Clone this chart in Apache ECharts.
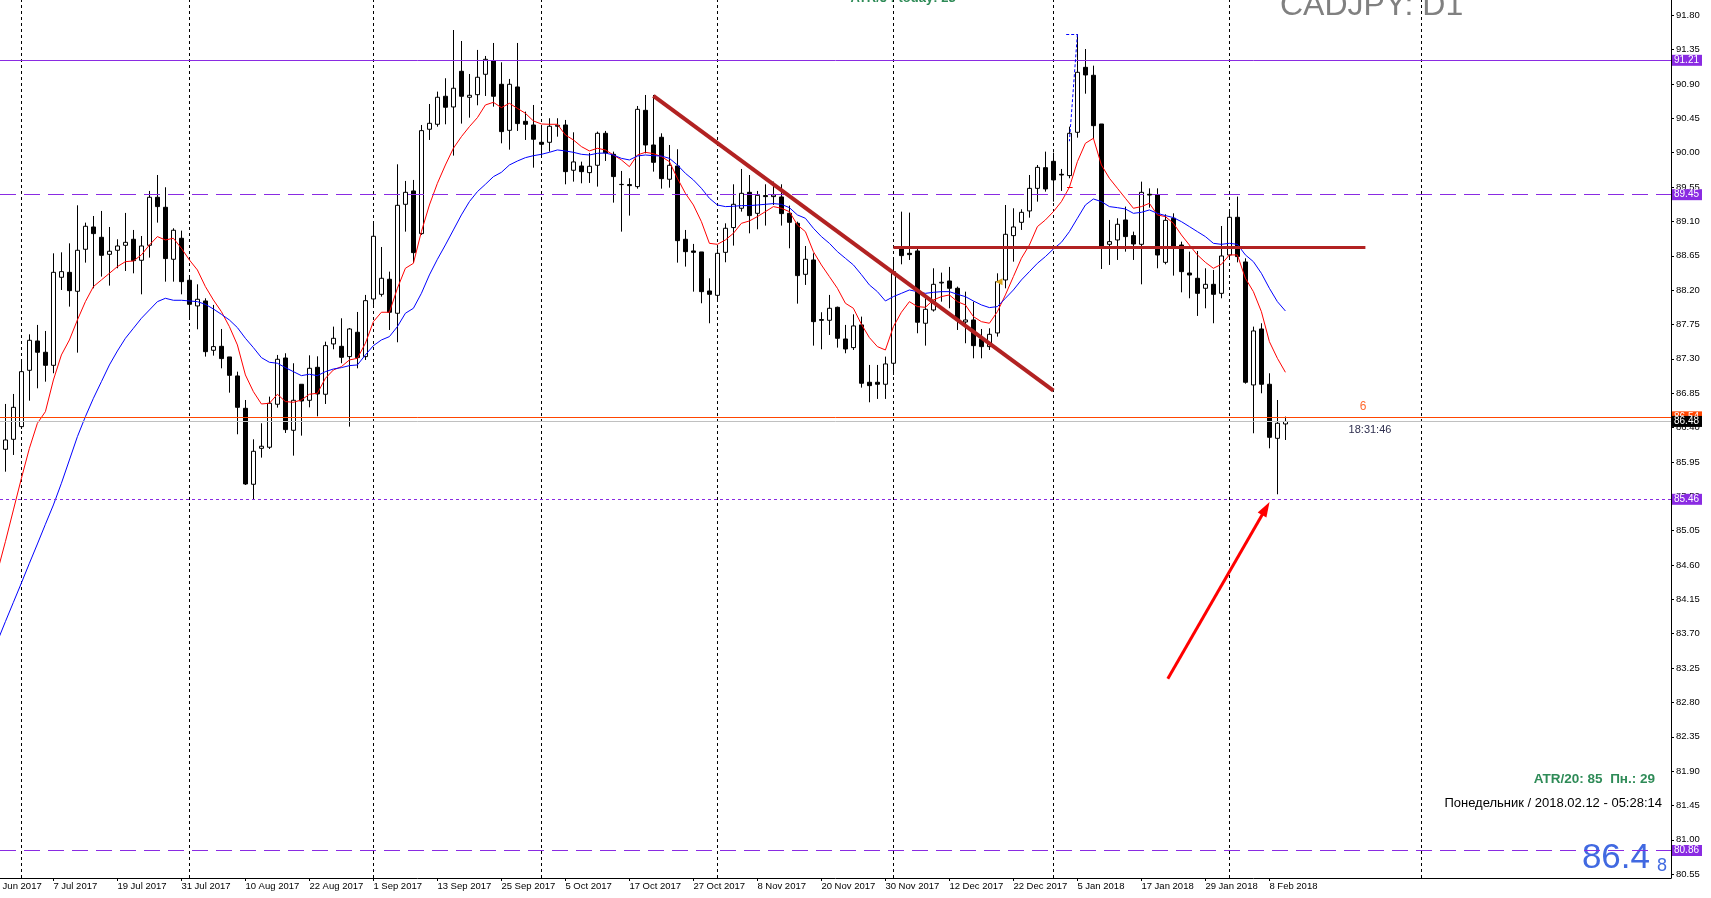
<!DOCTYPE html>
<html>
<head>
<meta charset="utf-8">
<title>CADJPY D1</title>
<script src="https://cdn.jsdelivr.net/npm/echarts@6/dist/echarts.min.js"></script>
<style>
html, body { margin: 0; padding: 0; background: #fff; }
#chart { width: 1711px; height: 898px; }
</style>
</head>
<body>
<div id="chart"></div>
<script>
// daily bars, index 0 = 29 Jun 2017 ... 160 = 12 Feb 2018
var open = [86.115, 86.246, 86.412, 87.150, 87.534, 87.386, 87.215, 88.368, 88.433, 88.185,
  88.735, 89.027, 88.892, 88.669, 88.722, 88.787, 88.866, 88.591, 88.787, 89.416,
  89.285, 88.604, 88.879, 88.329, 87.993, 88.058, 87.412, 87.464, 87.325, 87.076,
  86.652, 85.657, 86.128, 86.142, 86.705, 87.311, 86.364, 86.967, 86.757, 87.189,
  86.836, 87.495, 87.464, 87.329, 87.648, 87.329, 88.084, 88.145, 88.342, 87.897,
  89.324, 89.499, 88.940, 90.307, 90.372, 90.739, 90.599, 91.066, 90.726, 90.760,
  91.027, 91.202, 90.896, 90.293, 90.861, 90.411, 90.363, 90.136, 90.136, 90.346,
  90.363, 89.770, 89.826, 89.739, 89.835, 90.254, 89.979, 89.585, 89.582, 89.556,
  90.555, 90.101, 90.202, 89.652, 89.826, 88.866, 88.713, 88.700, 88.189, 88.132,
  88.695, 89.019, 89.272, 89.481, 89.206, 89.438, 89.425, 89.420, 89.206, 89.075,
  88.407, 88.595, 87.814, 87.805, 87.975, 87.560, 87.447, 87.744, 86.993, 86.993,
  86.967, 87.242, 88.739, 88.682, 88.713, 87.766, 87.940, 88.294, 88.320, 88.224,
  87.783, 87.809, 87.560, 87.460, 87.639, 88.333, 88.914, 89.088, 89.237, 89.533,
  89.804, 89.887, 89.717, 89.700, 90.267, 91.118, 91.014, 90.376, 88.800, 88.857,
  89.119, 88.914, 88.800, 89.455, 89.446, 88.564, 89.141, 88.791, 88.424, 88.355,
  88.224, 88.276, 88.158, 88.660, 89.154, 88.569, 86.958, 87.691, 86.967, 86.259,
  86.447];
var close = [86.237, 86.665, 87.132, 87.543, 87.386, 87.215, 88.433, 88.442, 88.193, 88.722,
  89.036, 88.940, 88.656, 88.709, 88.778, 88.826, 88.586, 88.778, 89.416, 89.294,
  88.613, 88.984, 88.311, 88.014, 88.080, 87.394, 87.460, 87.303, 87.084, 86.665,
  85.661, 86.089, 86.155, 86.718, 87.294, 86.373, 86.757, 86.748, 87.176, 86.840,
  87.473, 87.569, 87.320, 87.691, 87.316, 88.062, 88.905, 88.355, 87.910, 89.311,
  89.481, 88.691, 90.289, 90.385, 90.726, 90.595, 90.844, 90.739, 90.752, 90.988,
  91.223, 90.739, 90.276, 90.896, 90.381, 90.372, 90.176, 90.110, 90.346, 90.359,
  89.752, 89.879, 89.752, 89.822, 90.254, 89.997, 89.687, 89.582, 89.569, 90.568,
  90.101, 89.874, 89.660, 89.835, 88.848, 88.704, 88.695, 88.180, 88.145, 88.682,
  89.010, 89.324, 89.468, 89.176, 89.442, 89.425, 89.446, 89.202, 89.088, 88.390,
  88.604, 87.787, 87.805, 87.962, 87.569, 87.429, 87.731, 86.980, 86.949, 86.967,
  87.233, 88.442, 88.652, 88.665, 87.779, 87.949, 88.276, 88.303, 88.224, 87.809,
  87.809, 87.473, 87.460, 87.621, 88.311, 88.931, 89.027, 89.219, 89.533, 89.808,
  89.525, 89.643, 89.708, 90.254, 91.053, 91.018, 90.354, 88.778, 88.835, 89.062,
  88.901, 88.804, 89.481, 89.446, 88.660, 89.114, 88.770, 88.442, 88.398, 88.158,
  88.276, 88.145, 88.647, 89.154, 88.639, 86.993, 87.665, 86.967, 86.272, 86.456,
  86.480];
var high = [86.709, 86.840, 87.272, 87.621, 87.744, 87.665, 88.682, 88.695, 88.813, 89.311,
  89.084, 89.171, 89.237, 89.027, 88.866, 89.211, 88.988, 88.909, 89.499, 89.708,
  89.547, 89.010, 88.979, 88.377, 88.276, 88.093, 88.006, 87.691, 87.325, 87.132,
  86.761, 86.246, 86.456, 86.805, 87.351, 87.373, 87.242, 86.967, 87.346, 87.333,
  87.525, 87.722, 87.831, 87.704, 87.914, 88.137, 89.071, 88.765, 88.442, 89.848,
  89.630, 89.643, 90.363, 90.638, 90.800, 90.975, 91.607, 91.463, 91.031, 91.346,
  91.267, 91.437, 91.184, 90.966, 91.437, 90.538, 90.625, 90.363, 90.451, 90.451,
  90.429, 90.267, 89.883, 89.997, 90.276, 90.285, 90.014, 89.761, 89.665, 90.612,
  90.756, 90.756, 90.254, 90.101, 90.045, 88.988, 88.805, 88.700, 88.355, 88.748,
  89.075, 89.586, 89.787, 89.708, 89.499, 89.586, 89.621, 89.586, 89.307, 89.097,
  88.778, 88.682, 87.910, 88.137, 87.984, 87.744, 87.883, 87.853, 87.220, 87.220,
  87.329, 88.617, 89.228, 89.215, 88.739, 88.093, 88.486, 88.429, 88.504, 88.246,
  88.180, 88.049, 87.691, 87.700, 88.420, 89.315, 89.272, 89.259, 89.708, 89.839,
  90.014, 90.001, 89.787, 90.341, 91.551, 91.358, 91.140, 90.376, 89.119, 89.141,
  89.294, 88.966, 89.621, 89.533, 89.533, 89.193, 89.206, 88.835, 88.704, 88.713,
  88.486, 88.464, 89.040, 89.250, 89.425, 88.617, 87.722, 87.766, 87.111, 86.761,
  86.543];
var low = [85.822, 86.041, 86.381, 86.752, 86.914, 87.001, 87.111, 88.202, 87.984, 87.381,
  88.560, 88.224, 88.377, 88.259, 88.486, 88.451, 88.420, 88.145, 88.626, 89.084,
  88.311, 88.311, 88.145, 87.831, 87.687, 87.329, 87.342, 87.176, 86.857, 86.312,
  85.648, 85.460, 86.006, 86.120, 86.661, 86.329, 86.032, 86.294, 86.665, 86.547,
  86.709, 87.425, 87.242, 86.412, 87.176, 87.285, 88.006, 88.115, 87.678, 87.517,
  88.966, 88.556, 88.923, 90.167, 90.341, 90.372, 89.962, 90.381, 90.459, 90.621,
  90.743, 90.603, 90.123, 90.040, 90.285, 90.167, 89.804, 89.970, 90.014, 90.210,
  89.586, 89.621, 89.599, 89.604, 89.556, 89.892, 89.346, 88.966, 89.176, 89.529,
  89.992, 89.752, 89.529, 89.542, 88.560, 88.508, 88.180, 88.028, 87.766, 88.049,
  88.565, 88.783, 89.228, 88.944, 88.997, 89.045, 89.315, 89.045, 88.748, 88.023,
  88.268, 87.473, 87.425, 87.613, 87.447, 87.373, 87.416, 86.923, 86.731, 86.775,
  86.775, 87.089, 88.538, 88.595, 87.635, 87.473, 87.919, 88.049, 87.962, 87.678,
  87.504, 87.307, 87.307, 87.416, 87.591, 88.224, 88.573, 88.988, 89.149, 89.359,
  89.490, 89.359, 89.499, 89.665, 90.197, 90.773, 90.180, 88.477, 88.530, 88.595,
  88.704, 88.595, 88.276, 89.280, 88.486, 88.538, 88.390, 88.171, 88.093, 87.862,
  87.962, 87.766, 88.093, 88.617, 88.564, 86.975, 86.325, 86.849, 86.128, 85.526,
  86.237];

// moving averages, first value is bar -1 (28 Jun)
var maRed = [84.513, 84.906, 85.321, 85.735, 86.128, 86.456, 86.608, 87.023, 87.351, 87.547,
  87.809, 88.049, 88.246, 88.333, 88.420, 88.508, 88.573, 88.582, 88.661, 88.791,
  88.901, 88.857, 88.879, 88.748, 88.595, 88.464, 88.246, 88.071, 87.918, 87.722,
  87.482, 87.089, 86.870, 86.709, 86.718, 86.836, 86.740, 86.731, 86.761, 86.836,
  86.849, 87.045, 87.154, 87.198, 87.285, 87.307, 87.504, 87.787, 87.910, 87.910,
  88.224, 88.486, 88.551, 88.966, 89.315, 89.599, 89.839, 90.058, 90.210, 90.341,
  90.459, 90.625, 90.660, 90.590, 90.647, 90.581, 90.516, 90.416, 90.376, 90.372,
  90.372, 90.232, 90.167, 90.080, 90.023, 90.058, 90.036, 89.970, 89.905, 89.817,
  89.970, 90.005, 89.988, 89.949, 89.883, 89.665, 89.468, 89.315, 89.097, 88.813,
  88.800, 88.857, 88.944, 89.075, 89.106, 89.163, 89.228, 89.294, 89.272, 89.228,
  89.053, 88.966, 88.704, 88.530, 88.377, 88.224, 88.028, 87.962, 87.753, 87.578,
  87.460, 87.416, 87.722, 87.910, 88.049, 87.984, 87.975, 88.071, 88.115, 88.137,
  88.049, 88.006, 87.853, 87.787, 87.766, 87.918, 88.137, 88.377, 88.617, 88.791,
  89.032, 89.119, 89.228, 89.359, 89.547, 89.883, 90.123, 90.189, 89.839, 89.665,
  89.534, 89.403, 89.272, 89.294, 89.337, 89.185, 89.163, 89.075, 88.923, 88.791,
  88.661, 88.564, 88.486, 88.538, 88.661, 88.661, 88.355, 88.180, 87.918, 87.525,
  87.307, 87.124];
var maBlue = [83.600, 83.858, 84.111, 84.364, 84.622, 84.875, 85.133, 85.386, 85.670, 85.975,
  86.281, 86.543, 86.783, 87.001, 87.220, 87.403, 87.569, 87.700, 87.831, 87.940,
  88.049, 88.093, 88.067, 88.067, 88.058, 88.049, 88.014, 87.953, 87.883, 87.809,
  87.709, 87.569, 87.447, 87.316, 87.255, 87.242, 87.185, 87.132, 87.080, 87.098,
  87.080, 87.132, 87.167, 87.185, 87.211, 87.220, 87.351, 87.473, 87.547, 87.591,
  87.722, 87.897, 87.962, 88.158, 88.399, 88.604, 88.792, 88.988, 89.185, 89.359,
  89.490, 89.586, 89.686, 89.743, 89.839, 89.891, 89.935, 89.961, 89.979, 90.005,
  90.036, 90.023, 90.005, 89.979, 89.970, 89.992, 89.996, 89.970, 89.926, 89.905,
  89.957, 89.970, 89.961, 89.957, 89.926, 89.839, 89.730, 89.643, 89.534, 89.403,
  89.315, 89.294, 89.298, 89.307, 89.307, 89.315, 89.324, 89.333, 89.324, 89.280,
  89.185, 89.141, 89.010, 88.901, 88.813, 88.704, 88.617, 88.530, 88.403, 88.268,
  88.180, 88.058, 88.115, 88.158, 88.202, 88.180, 88.158, 88.171, 88.180, 88.180,
  88.145, 88.115, 88.058, 88.006, 87.971, 87.984, 88.093, 88.202, 88.333, 88.442,
  88.551, 88.639, 88.739, 88.826, 88.966, 89.141, 89.315, 89.394, 89.359, 89.294,
  89.280, 89.263, 89.206, 89.219, 89.250, 89.206, 89.176, 89.150, 89.097, 89.032,
  88.966, 88.901, 88.813, 88.800, 88.813, 88.800, 88.661, 88.573, 88.420, 88.224,
  88.049, 87.927];

// time scale labels (bar index -> text), every 8 bars
var dateTicks = [6, 14, 22, 30, 38, 46, 54, 62, 70, 78, 86, 94, 102, 110, 118, 126, 134, 142, 150, 158];
var dateLabels = ["7 Jul 2017", "19 Jul 2017", "31 Jul 2017", "10 Aug 2017", "22 Aug 2017", "1 Sep 2017",
  "13 Sep 2017", "25 Sep 2017", "5 Oct 2017", "17 Oct 2017", "27 Oct 2017", "8 Nov 2017", "20 Nov 2017",
  "30 Nov 2017", "12 Dec 2017", "22 Dec 2017", "5 Jan 2018", "17 Jan 2018", "29 Jan 2018", "8 Feb 2018"];
var priceTicks = [80.55, 81.00, 81.45, 81.90, 82.35, 82.80, 83.25, 83.70, 84.15, 84.60, 85.05, 85.50,
  85.95, 86.40, 86.85, 87.30, 87.75, 88.20, 88.65, 89.10, 89.55, 90.00, 90.45, 90.90, 91.35, 91.80];
// first bar of each month (period separators)
var monthStarts = [2, 23, 46, 67, 89, 111, 131, 153, 177];

var chart = echarts.init(document.getElementById('chart'));

var candles = [];
for (var i = 0; i < open.length; i++) {
  candles.push([i, open[i], close[i], low[i], high[i]]);
}
var redLine = maRed.map(function (v, k) { return [k - 1, v]; });
var blueLine = maBlue.map(function (v, k) { return [k - 1, v]; });

var PURPLE = '#8a2be2';
var BROWN = '#b22222';
var FONT = 'Liberation Sans';

function priceLevel(v, color, type, tagBg) {
  return {
    yAxis: v,
    lineStyle: { color: color, width: 1, type: type },
    label: {
      show: true, position: 'end', distance: 1, formatter: v.toFixed(2),
      backgroundColor: tagBg || color, color: '#fff', fontSize: 10, fontFamily: FONT,
      padding: [1, 3, 0, 2]
    }
  };
}
function seg(x1, y1, x2, y2, color, width, type) {
  return [
    { coord: [x1, y1], lineStyle: { color: color, width: width, type: type || 'solid' } },
    { coord: [x2, y2] }
  ];
}

var separators = monthStarts.map(function (m) {
  return { xAxis: m };
});

var objects = [
  priceLevel(91.21, PURPLE, 'solid'),
  priceLevel(89.45, PURPLE, [16, 8]),
  priceLevel(85.46, PURPLE, [3, 3]),
  priceLevel(80.86, PURPLE, [16, 8]),
  priceLevel(86.54, '#ff4500', 'solid'),
  priceLevel(86.48, '#c0c0c0', 'solid', '#000'),
  seg(81.0, 90.745, 131.0, 86.885, BROWN, 4),
  seg(111.0, 88.765, 170.0, 88.765, BROWN, 3),
  seg(132.6, 91.55, 134.0, 91.55, '#0000ff', 1, [3, 2]),
  seg(134.0, 91.55, 133.0, 90.15, '#0000ff', 1, [3, 2]),
  seg(132.7, 89.55, 133.4, 89.55, '#ff0000', 1),
  [
    { coord: [145.3, 83.11], symbol: 'none', lineStyle: { color: '#ff0000', width: 3, type: 'solid' } },
    { coord: [157.55, 85.34], symbol: 'triangle', symbolSize: [10, 15] }
  ]
];

var option = {
  animation: false,
  backgroundColor: '#fff',
  textStyle: { fontFamily: FONT },
  grid: { left: 0, right: 40, top: 0, bottom: 20, containLabel: false },
  xAxis: {
    type: 'value', min: -0.675, max: 208.2,
    axisLine: { show: true, onZero: false, lineStyle: { color: '#000', width: 1 } },
    axisTick: { show: true, customValues: dateTicks, length: 3, lineStyle: { color: '#000' } },
    axisLabel: {
      customValues: dateTicks, align: 'left', margin: 3, fontSize: 9.5, color: '#000',
      formatter: function (v) { return dateLabels[dateTicks.indexOf(v)]; }
    },
    splitLine: { show: false }
  },
  yAxis: {
    type: 'value', position: 'right', min: 80.5, max: 92,
    axisLine: { show: true, onZero: false, lineStyle: { color: '#000', width: 1 } },
    axisTick: { show: true, customValues: priceTicks, length: 3, lineStyle: { color: '#000' } },
    axisLabel: {
      customValues: priceTicks, margin: 5, fontSize: 9.5, color: '#000',
      formatter: function (v) { return v.toFixed(2); }
    },
    splitLine: { show: false }
  },
  series: [
    {
      type: 'candlestick', name: 'CADJPY', data: candles, barWidth: 4, silent: true,
      itemStyle: { color: '#fff', color0: '#000', borderColor: '#000', borderColor0: '#000', borderWidth: 1 },
      markLine: {
        silent: true, symbol: 'none', z: 1,
        label: { show: false },
        lineStyle: { color: '#000', width: 1, type: [3, 3] },
        data: separators
      },
      markPoint: {
        silent: true,
        data: [{ coord: [124.2, 88.31], symbol: 'triangle', symbolRotate: 90, symbolSize: [7, 7],
          itemStyle: { color: '#daa520' }, label: { show: false } }]
      }
    },
    {
      type: 'line', name: 'MA red', data: redLine, showSymbol: false, silent: true,
      lineStyle: { color: '#ff0000', width: 1 }, itemStyle: { color: '#ff0000' }
    },
    {
      type: 'line', name: 'MA blue', data: blueLine, showSymbol: false, silent: true,
      lineStyle: { color: '#0000ff', width: 1 }, itemStyle: { color: '#0000ff' },
      markLine: {
        silent: true, symbol: 'none',
        label: { show: false },
        data: objects
      }
    }
  ],
  graphic: [
    { type: 'text', silent: true, style: { text: '27 Jun 2017', x: -10.6, y: 881, fontSize: 9.5, fontFamily: FONT, fill: '#000', verticalAlign: 'top' } },
    { type: 'text', silent: true, style: { text: 'CADJPY: D1', x: 1280, y: 22.5, fontSize: 32, fontFamily: FONT, fill: '#808080', verticalAlign: 'bottom' } },
    { type: 'text', silent: true, style: { text: 'ATR/5 : today: 23', x: 903, y: 5, fontSize: 13, fontWeight: 'bold', fontFamily: FONT, fill: '#2e8b57', align: 'center', verticalAlign: 'bottom' } },
    { type: 'text', silent: true, style: { text: '6', x: 1363, y: 407, fontSize: 12, fontFamily: FONT, fill: '#ff6a30', align: 'center', verticalAlign: 'middle' } },
    { type: 'text', silent: true, style: { text: '18:31:46', x: 1370, y: 430, fontSize: 11, fontFamily: FONT, fill: '#2f2f4f', align: 'center', verticalAlign: 'middle' } },
    { type: 'text', silent: true, style: { text: 'ATR/20: 85  Пн.: 29', x: 1655, y: 779, fontSize: 13.5, fontWeight: 'bold', fontFamily: FONT, fill: '#2e8b57', align: 'right', verticalAlign: 'middle' } },
    { type: 'text', silent: true, style: { text: 'Понедельник / 2018.02.12 - 05:28:14', x: 1662, y: 803, fontSize: 13, fontFamily: FONT, fill: '#000', align: 'right', verticalAlign: 'middle' } },
    { type: 'text', silent: true, style: { text: '86.4', x: 1650, y: 876, fontSize: 35, fontFamily: FONT, fill: '#4169e1', align: 'right', verticalAlign: 'bottom' } },
    { type: 'text', silent: true, style: { text: '8', x: 1657, y: 875, fontSize: 18, fontFamily: FONT, fill: '#4169e1', align: 'left', verticalAlign: 'bottom' } }
  ]
};

chart.setOption(option);
</script>
</body>
</html>
